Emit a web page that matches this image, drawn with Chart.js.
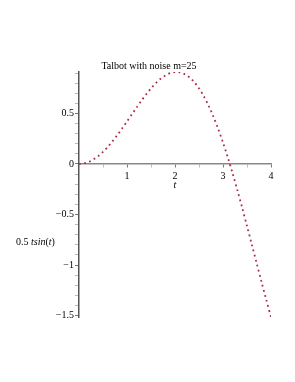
<!DOCTYPE html>
<html>
<head>
<meta charset="utf-8">
<script src="https://cdn.jsdelivr.net/npm/chart.js@4.4.1/dist/chart.umd.min.js"></script>
<style>
    html, body { margin: 0; padding: 0; background: #fff; }
</style>
</head>
<body>
<canvas id="plot" width="295" height="382"></canvas>
<script>
    // values: t and 0.5*t*sin(t)
    var tValues = [0, 0.1, 0.2, 0.3, 0.4, 0.5, 0.6, 0.7, 0.8, 0.9,
        1.0, 1.1, 1.2, 1.3, 1.4, 1.5, 1.6, 1.7, 1.8, 1.9,
        2.0, 2.1, 2.2, 2.3, 2.4, 2.5, 2.6, 2.7, 2.8, 2.9,
        3.0, 3.1, 3.2, 3.3, 3.4, 3.5, 3.6, 3.7, 3.8, 3.9, 4.0];
    var yValues = [0, 0.005, 0.020, 0.044, 0.078, 0.120, 0.169, 0.226, 0.287, 0.353,
        0.421, 0.490, 0.559, 0.626, 0.690, 0.748, 0.800, 0.843, 0.876, 0.899,
        0.909, 0.906, 0.889, 0.858, 0.811, 0.748, 0.670, 0.577, 0.469, 0.347,
        0.212, 0.065, -0.093, -0.260, -0.434, -0.614, -0.797, -0.980, -1.163, -1.341, -1.514];

    var xTicks = [0.5, 1, 1.5, 2, 2.5, 3, 3.5, 4];
    var yTicks = [-1.5, -1.4, -1.3, -1.2, -1.1, -1.0, -0.9, -0.8, -0.7, -0.6,
        -0.5, -0.4, -0.3, -0.2, -0.1, 0, 0.1, 0.2, 0.3, 0.4, 0.5, 0.6, 0.7, 0.8, 0.9];

    var titleText = 'Talbot with noise m=25';
    var serif = '"Liberation Serif", "DejaVu Serif", serif';

    function isMajor(v, step) {
        var r = v / step;
        return Math.abs(r - Math.round(r)) < 1e-6;
    }
    function fmt(v) {
        var s = String(Math.round(v * 10) / 10);
        return s.replace('-', '\u2212');
    }

    // title and axis labels drawn as plain text where Maple puts them
    var axisLabels = {
        id: 'axisLabels',
        afterDraw: function(chart) {
            var ctx = chart.ctx;
            var x = chart.scales.x, y = chart.scales.y;
            ctx.save();
            ctx.fillStyle = '#000';
            ctx.textBaseline = 'middle';
            ctx.textAlign = 'center';
            ctx.font = '10px ' + serif;
            ctx.fillText(titleText, 149, 66);

            ctx.font = 'italic 10px ' + serif;
            ctx.fillText('t', x.getPixelForValue(2), y.getPixelForValue(0) + 21);

            var parts = [['0.5 ', ''], ['tsin', 'italic '], ['(', ''], ['t', 'italic '], [')', '']];
            var px = 16, py = 242;
            ctx.textAlign = 'left';
            parts.forEach(function(p) {
                ctx.font = p[1] + '10px ' + serif;
                ctx.fillText(p[0], px, py);
                px += ctx.measureText(p[0]).width;
            });
            ctx.restore();
        }
    };

    var ctx = document.getElementById('plot').getContext('2d');
    new Chart(ctx, {
        type: 'line',
        data: {
            datasets: [{
                data: tValues.map(function(t, i) { return {x: t, y: yValues[i]}; }),
                borderColor: '#a82f48',
                borderWidth: 1.8,
                borderDash: [1.8, 3.4],
                pointRadius: 0,
                tension: 0.3,
                fill: false
            }]
        },
        options: {
            responsive: false,
            devicePixelRatio: 1,
            animation: false,
            layout: { padding: { left: 79, right: 24, top: 72, bottom: 65 } },
            plugins: {
                legend: { display: false },
                tooltip: { enabled: false },
                title: { display: false }
            },
            scales: {
                x: {
                    type: 'linear',
                    position: { y: 0 },
                    min: 0,
                    max: 4,
                    afterBuildTicks: function(s) { s.ticks = xTicks.map(function(v) { return {value: v}; }); },
                    ticks: {
                        color: '#000',
                        font: { family: serif, size: 10 },
                        padding: 3,
                        maxRotation: 0,
                        autoSkip: false,
                        callback: function(v) { return isMajor(v, 1) ? fmt(v) : ''; }
                    },
                    grid: {
                        drawOnChartArea: false,
                        tickLength: 3,
                        tickColor: function(c) { return c.tick && isMajor(c.tick.value, 1) ? '#777' : '#bbb'; }
                    },
                    border: { color: '#888', width: 1.5 }
                },
                y: {
                    type: 'linear',
                    position: { x: 0 },
                    min: -1.514,
                    max: 0.91,
                    afterBuildTicks: function(s) { s.ticks = yTicks.map(function(v) { return {value: v}; }); },
                    ticks: {
                        color: '#000',
                        font: { family: serif, size: 10 },
                        autoSkip: false,
                        // padding is ignored for a centred axis, so trailing spaces keep labels off the line
                        callback: function(v) { return isMajor(v, 0.5) ? fmt(v) + '  ' : ''; }
                    },
                    grid: {
                        drawOnChartArea: false,
                        tickLength: 3,
                        tickColor: function(c) { return c.tick && isMajor(c.tick.value, 0.5) ? '#777' : '#bbb'; }
                    },
                    border: { color: '#555', width: 1.5 }
                }
            }
        },
        plugins: [axisLabels]
    });
</script>
</body>
</html>
